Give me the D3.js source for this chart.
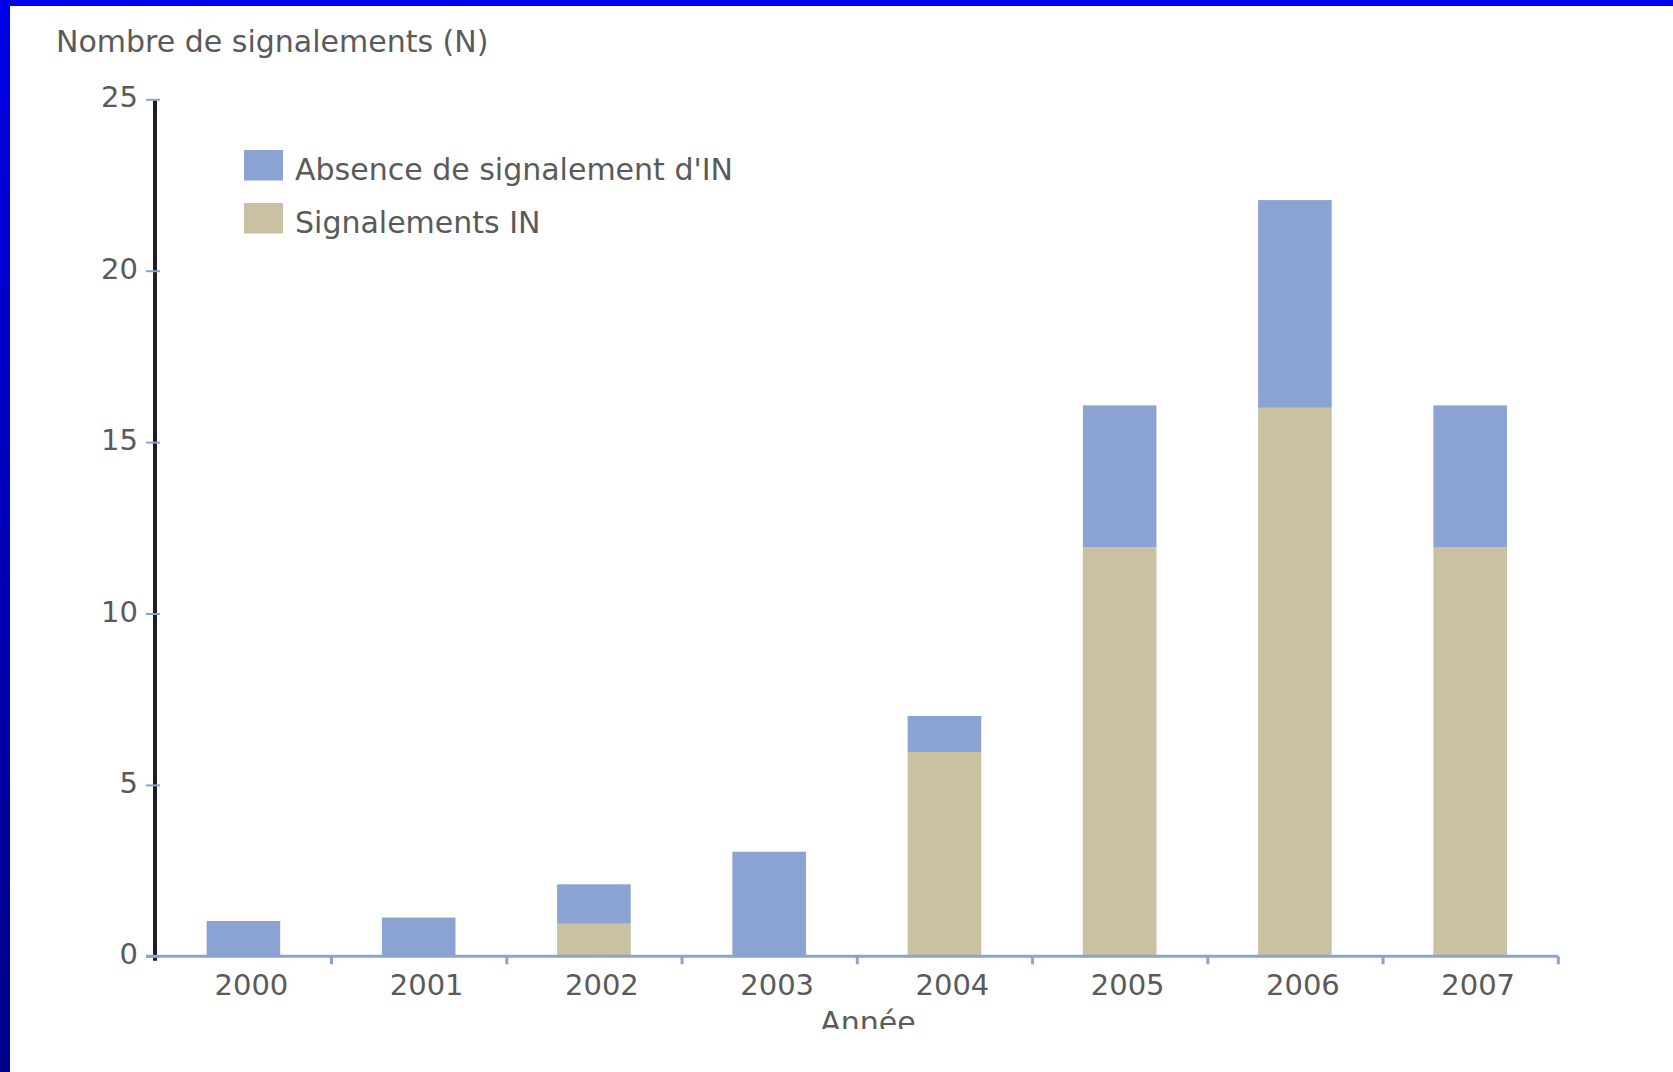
<!DOCTYPE html>
<html>

<head>
  <title>Nombre de signalements</title>
  <script src="https://cdn.jsdelivr.net/npm/d3@7"></script>
  <style>
    body {
      margin: 0;
      overflow: hidden;
      background: #fff;
    }

    text {
      font-family: "DejaVu Sans", sans-serif;
      fill: #5a5a5a;
    }
  </style>
</head>

<body>
  <svg id="container" width="1673" height="1072"></svg>

  <script>
    const years = ['2000', '2001', '2002', '2003', '2004', '2005', '2006', '2007'];
    const signalementsIN = [0, 0, 0.95, 0, 5.96, 11.94, 16.0, 11.94];
    const absenceIN = [1.03, 1.13, 1.15, 3.05, 1.05, 4.13, 6.06, 4.13];
    const yTicks = [0, 5, 10, 15, 20, 25];

    const BLUE = '#8ba3d3';
    const TAN = '#c9c1a2';

    const svg = d3.select('#container');
    const width = +svg.attr('width');
    const height = +svg.attr('height');

    // slide frame: blue gradient on the left, flat blue strip on top
    const defs = svg.append('defs');
    const grad = defs.append('linearGradient')
      .attr('id', 'frame')
      .attr('x1', 0).attr('y1', 0).attr('x2', 0).attr('y2', 1);
    grad.append('stop').attr('offset', '0%').attr('stop-color', '#0000e8');
    grad.append('stop').attr('offset', '100%').attr('stop-color', '#000088');

    defs.append('clipPath').attr('id', 'cut')
      .append('rect').attr('x', 0).attr('y', 0).attr('width', width).attr('height', 1029);

    svg.append('rect').attr('x', 0).attr('y', 0).attr('width', 10).attr('height', height)
      .attr('fill', 'url(#frame)');
    svg.append('rect').attr('x', 0).attr('y', 0).attr('width', width).attr('height', 6)
      .attr('fill', '#0000e6');

    const x = d3.scaleBand()
      .domain(years)
      .range([155.8, 1557.8])
      .paddingInner(0.58)
      .paddingOuter(0.29);

    const xEdge = d3.scaleLinear().domain([0, years.length]).range([155.8, 1557.8]);

    const y = d3.scaleLinear().domain([0, 25]).range([956.3, 99.3]);

    const rows = years.map((yr, i) => ({ year: yr, signal: signalementsIN[i], absence: absenceIN[i] }));
    const series = d3.stack().keys(['signal', 'absence'])(rows);
    const colors = { signal: TAN, absence: BLUE };

    // black vertical axis
    svg.append('line')
      .attr('x1', 155).attr('x2', 155)
      .attr('y1', y(25) + 1).attr('y2', y(0) + 4.5)
      .attr('stroke', '#1e1e24')
      .attr('stroke-width', 4);

    // bars
    svg.append('g')
      .selectAll('g')
      .data(series)
      .enter()
      .append('g')
      .attr('fill', s => colors[s.key])
      .selectAll('rect')
      .data(s => s)
      .enter()
      .append('rect')
      .attr('x', d => x(d.data.year))
      .attr('width', x.bandwidth())
      .attr('y', d => y(d[1]))
      .attr('height', d => y(d[0]) - y(d[1]));

    // y axis ticks + labels
    const yAxis = svg.append('g')
      .attr('transform', 'translate(160,0)')
      .call(d3.axisLeft(y).tickValues(yTicks).tickSize(14).tickPadding(8));
    yAxis.select('.domain').remove();
    yAxis.selectAll('.tick line').attr('stroke', BLUE).attr('stroke-width', 2);
    yAxis.selectAll('.tick text')
      .attr('dy', null)
      .attr('y', 7.5)
      .style('font-size', '29px')
      .style('font-family', '"DejaVu Sans", sans-serif')
      .attr('fill', '#5a5a5a');

    // x axis line and boundary ticks
    const xAxis = svg.append('g')
      .attr('transform', 'translate(0,956.3)')
      .call(d3.axisBottom(xEdge).tickValues(d3.range(1, years.length + 1)).tickSize(8).tickFormat(''));
    xAxis.select('.domain').remove();
    xAxis.selectAll('.tick line').attr('stroke', BLUE).attr('stroke-width', 3);

    svg.append('line')
      .attr('x1', 146).attr('x2', 1558)
      .attr('y1', 956.3).attr('y2', 956.3)
      .attr('stroke', BLUE)
      .attr('stroke-width', 3);

    // year labels
    svg.append('g')
      .selectAll('text')
      .data(years)
      .enter()
      .append('text')
      .attr('x', d => x(d) + x.bandwidth() / 2 + 8)
      .attr('y', 994.5)
      .attr('text-anchor', 'middle')
      .style('font-size', '29px')
      .text(d => d);

    svg.append('text')
      .attr('x', 868)
      .attr('y', 1033)
      .attr('text-anchor', 'middle')
      .attr('clip-path', 'url(#cut)')
      .style('font-size', '30px')
      .text('Année');

    svg.append('text')
      .attr('x', 56)
      .attr('y', 52)
      .style('font-size', '30px')
      .text('Nombre de signalements (N)');

    // legend
    const legendItems = [
      { label: "Absence de signalement d'IN", color: BLUE },
      { label: 'Signalements IN', color: TAN }
    ];
    const legend = svg.append('g')
      .selectAll('g')
      .data(legendItems)
      .enter()
      .append('g')
      .attr('transform', (d, i) => `translate(244,${150 + i * 53})`);
    legend.append('rect')
      .attr('width', 39)
      .attr('height', 30.5)
      .attr('fill', d => d.color);
    legend.append('text')
      .attr('x', 51)
      .attr('y', 29.5)
      .style('font-size', '30px')
      .text(d => d.label);
  </script>
</body>

</html>
